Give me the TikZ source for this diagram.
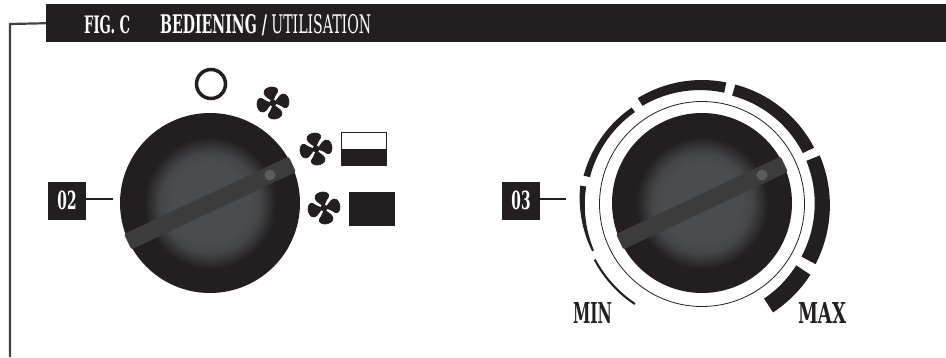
\documentclass[tikz,border=0pt]{standalone}
\usepackage{fontspec}
\setmainfont{DejaVu Serif}[FakeStretch=0.55]
\definecolor{ink}{HTML}{231F20}
\definecolor{capg}{HTML}{4A4C4E}
\definecolor{barg}{HTML}{3C3C3C}
\definecolor{dotg}{HTML}{5A5C5E}
\pgfdeclareradialshading{knobshade}{\pgfpoint{0bp}{0bp}}{color(0bp)=(capg); color(15bp)=(capg); color(19bp)=(capg!85!ink); color(25bp)=(ink); color(50bp)=(ink)}
\tikzset{
  x=1pt,y=-1pt,
  tag/.style={fill=ink,text=white,minimum width=38pt,minimum height=38pt,inner sep=0pt,font=\fontsize{25}{25}\selectfont\bfseries},
  leader/.style={draw=ink,line width=1.8pt},
  label/.style={text=ink,inner sep=0pt,font=\fontsize{27}{27}\selectfont\bfseries},
  pics/fan/.style={code={
    \foreach \r in {8,98,188,278}{
      \filldraw[ink,line width=0.7pt,line join=round,rotate=\r] (0,0) .. controls (-1,-5) and (-7.5,-6.5) .. (-7.5,-11)
        .. controls (-7.5,-15) and (-2,-16.5) .. (1,-16)
        .. controls (5,-15.5) and (7.5,-13) .. (6,-10.5)
        .. controls (4.5,-8.5) and (1.5,-6) .. (0,0) -- cycle;
    }
    \fill[ink] (0,0) circle (3.5);
  }},
  pics/knob/.style={code={
    \fill[ink] (0,0) circle (90);
    \shade[shading=knobshade] (0,0) circle (66);
    \fill[barg,rotate=25.2,rounded corners=2pt] (-91,-8.5) rectangle (91,8.5);
    \fill[dotg] (60,-28) circle (5.5);
  }}
}
% annular sector: a1,a2 (deg), outer r at a1, outer r at a2, inner r at a1, inner r at a2
\newcommand{\ringseg}[6]{%
  \fill[ink] plot[smooth,samples=16,domain=0:1,variable=\t]
    ({702+(#3+(#4-#3)*\t)*cos(#1+(#2-#1)*\t)},{203-(#3+(#4-#3)*\t)*sin(#1+(#2-#1)*\t)})
    -- plot[smooth,samples=16,domain=1:0,variable=\t]
    ({702+(#5+(#6-#5)*\t)*cos(#1+(#2-#1)*\t)},{203-(#5+(#6-#5)*\t)*sin(#1+(#2-#1)*\t)})
    -- cycle;}
\begin{document}
\begin{tikzpicture}
\useasboundingbox (0,0) rectangle (946,357);
\fill[white] (0,0) rectangle (946,357);
% header
\node[fill=ink,minimum width=900pt,minimum height=38pt,inner sep=0pt,anchor=north west] (hdr) at (46,4) {};
\coordinate (corner) at (10,24);
\coordinate (foot) at (10,357);
\draw[draw=ink!85,line width=2.2pt] (hdr.west) -- (corner) -- (foot);
\node[text=white,inner sep=0pt,anchor=base west,font=\fontsize{24}{24}\selectfont\bfseries] (fig) at (84,33) {FIG. C};
\node[text=white,inner sep=0pt,anchor=base west,font=\fontsize{24}{24}\selectfont] (title) at (160,33) {\resizebox{211pt}{!}{{\bfseries BEDIENING /} UTILISATION}};
% left knob
\pic at (210,203) {knob};
\coordinate (k2) at (113,199);
\node[tag] (t2) at (67,200.5) {02};
\draw[leader] (t2.east |- k2) -- (k2);
\node[circle,draw=ink,line width=3.5pt,minimum size=29pt,inner sep=0pt] (off) at (211,84) {};
\pic at (273,103) {fan};
\pic at (316,149) {fan};
\pic at (324,208) {fan};
\fill[ink] (341,149) rectangle (387,166);
\draw[ink,line width=1pt] (341.5,149) rectangle (386.5,132.5);
\fill[ink] (349,192) rectangle (395,226);
% right knob
\pic at (702,203) {knob};
\node[circle,draw=ink,line width=0.8pt,minimum size=205pt,inner sep=0pt] (ring) at (702,204) {};
\coordinate (k3) at (566,199);
\node[tag] (t3) at (521,200.5) {03};
\draw[leader] (t3.east |- k3) -- (k3);
\ringseg{207.8}{236.4}{122.3}{122.3}{120.2}{120.2}
\ringseg{171.9}{203.7}{123}{120}{117}{118}
\ringseg{126.4}{167}{118.5}{121.5}{113}{115}
\ringseg{78.6}{121.5}{123}{123}{112.5}{114}
\ringseg{26.3}{74.3}{125}{123}{112.5}{111.5}
\ringseg{-28.3}{22}{129}{127}{113}{112.5}
\ringseg{-57}{-33.5}{130.5}{130}{114}{113}
\node[label,anchor=base] (mn) at (592.5,323) {\resizebox{39pt}{21pt}{MIN}};
\node[label,anchor=base] (mx) at (822,323) {\resizebox{48pt}{21pt}{MAX}};
\end{tikzpicture}
\end{document}
